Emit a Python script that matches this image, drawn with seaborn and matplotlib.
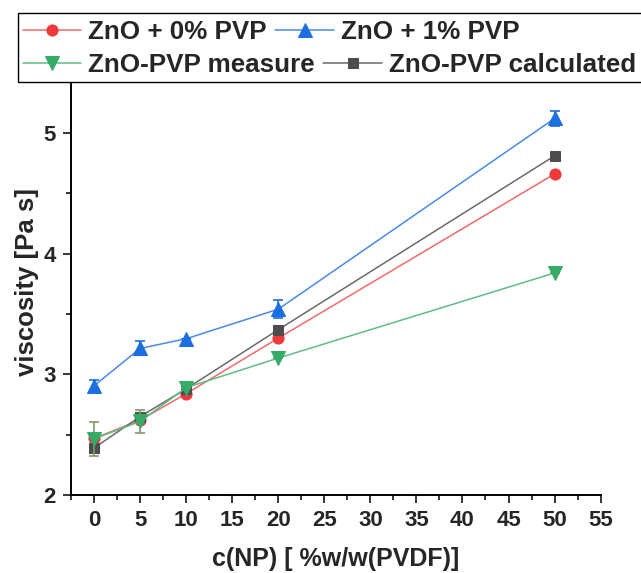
import numpy as np
import pandas as pd
import matplotlib
matplotlib.use("Agg")
import matplotlib.pyplot as plt
import seaborn as sns
from matplotlib.ticker import MultipleLocator
from matplotlib.patches import Rectangle

# --- data ---
conc = [0, 5, 10, 20, 50]

zno_0 = [2.47, 2.62, 2.84, 3.30, 4.66]
zno_1 = [2.905, 3.215, 3.295, 3.54, 5.12]
zno_1_err = [0.05, 0.058, 0.0, 0.075, 0.06]
pvp_meas = [2.465, 2.61, 2.89, 3.135, 3.84]
pvp_meas_err = [0.14, 0.095, 0.0, 0.0, 0.0]
pvp_calc = [2.39, 2.65, 2.88, 3.37, 4.81]

labels = ["ZnO + 0% PVP", "ZnO + 1% PVP", "ZnO-PVP measure", "ZnO-PVP calculated"]

sns.set_style("ticks")
plt.rcParams["font.family"] = ["Liberation Sans", "DejaVu Sans"]
plt.rcParams["font.weight"] = "bold"
plt.rcParams["axes.labelweight"] = "bold"

fig = plt.figure(figsize=(6.41, 5.73), dpi=100)
ax = fig.add_axes([0.1108, 0.136, 0.937 - 0.1108, 0.8628 - 0.136])

series = [
    (zno_0, None, labels[0], "#f0393b", "#f06a6a", "o", 8, 2),
    (zno_1, zno_1_err, labels[1], "#1c6fe0", "#4a8ae6", "^", 9.5, 3),
    (pvp_calc, None, labels[3], "#4d4d4d", "#6a6a6a", "s", 7.5, 4),
    (pvp_meas, pvp_meas_err, labels[2], "#35ab68", "#5cbf84", "v", 9.5, 5),
]

handles = {}
for vals, err, lab, mcol, lcol, mk, ms, z in series:
    df = pd.DataFrame({"c": conc, "v": vals})
    if err is not None:
        ecol = mcol if mk == "^" else "#7f9a6c"
        ax.errorbar(conc, vals, yerr=err, fmt="none", ecolor=ecol, elinewidth=1.2,
                    capsize=3.6, capthick=1.2, zorder=z - 0.5)
    sns.lineplot(data=df, x="c", y="v", ax=ax, color=lcol, linewidth=1.1,
                 marker=mk, markersize=ms, markerfacecolor=mcol,
                 markeredgecolor=mcol, zorder=z)
    handles[lab] = ax.lines[-1]

ax.set_xlim(-2.5, 55)
ax.set_ylim(2, 5.45)
ax.xaxis.set_major_locator(MultipleLocator(5))
ax.xaxis.set_minor_locator(MultipleLocator(2.5))
ax.yaxis.set_major_locator(MultipleLocator(1))
ax.yaxis.set_minor_locator(MultipleLocator(0.5))
ax.tick_params(which="major", length=6, width=1.3, labelsize=16, direction="out", pad=5)
ax.tick_params(which="minor", length=3.5, width=1.3, direction="out")
for lbl in ax.get_xticklabels() + ax.get_yticklabels():
    lbl.set_fontweight("bold")

sns.despine(ax=ax)
for sp in ["left", "bottom"]:
    ax.spines[sp].set_linewidth(1.4)
    ax.spines[sp].set_color("black")

ax.set_xlabel("c(NP) [ %w/w(PVDF)]", fontsize=18, fontweight="bold", labelpad=11)
ax.set_ylabel("viscosity [Pa s]", fontsize=18.5, fontweight="bold", labelpad=3)
ax.yaxis.label.set_y(0.512)

# legend box (Origin style: rows not aligned into columns)
box = Rectangle((18 / 641, 1 - 82 / 573), 1.0, 69 / 573, transform=fig.transFigure,
                facecolor="white", edgecolor="black", linewidth=1.0, zorder=4,
                clip_on=False)
fig.patches.append(box)

rows = [(labels[0], labels[1], 31.7), (labels[2], labels[3], 65)]
for a, b, yc in rows:
    leg = fig.legend([handles[a], handles[b]], [a, b], loc="center left",
                     bbox_to_anchor=(22.5 / 641, 1 - yc / 573), ncol=2,
                     fontsize=18.7, frameon=False,
                     handlelength=2.27, handletextpad=0.27, columnspacing=0.32,
                     borderpad=0, borderaxespad=0)
    for t in leg.get_texts():
        t.set_fontweight("bold")

fig.savefig("out.png", dpi=100)
